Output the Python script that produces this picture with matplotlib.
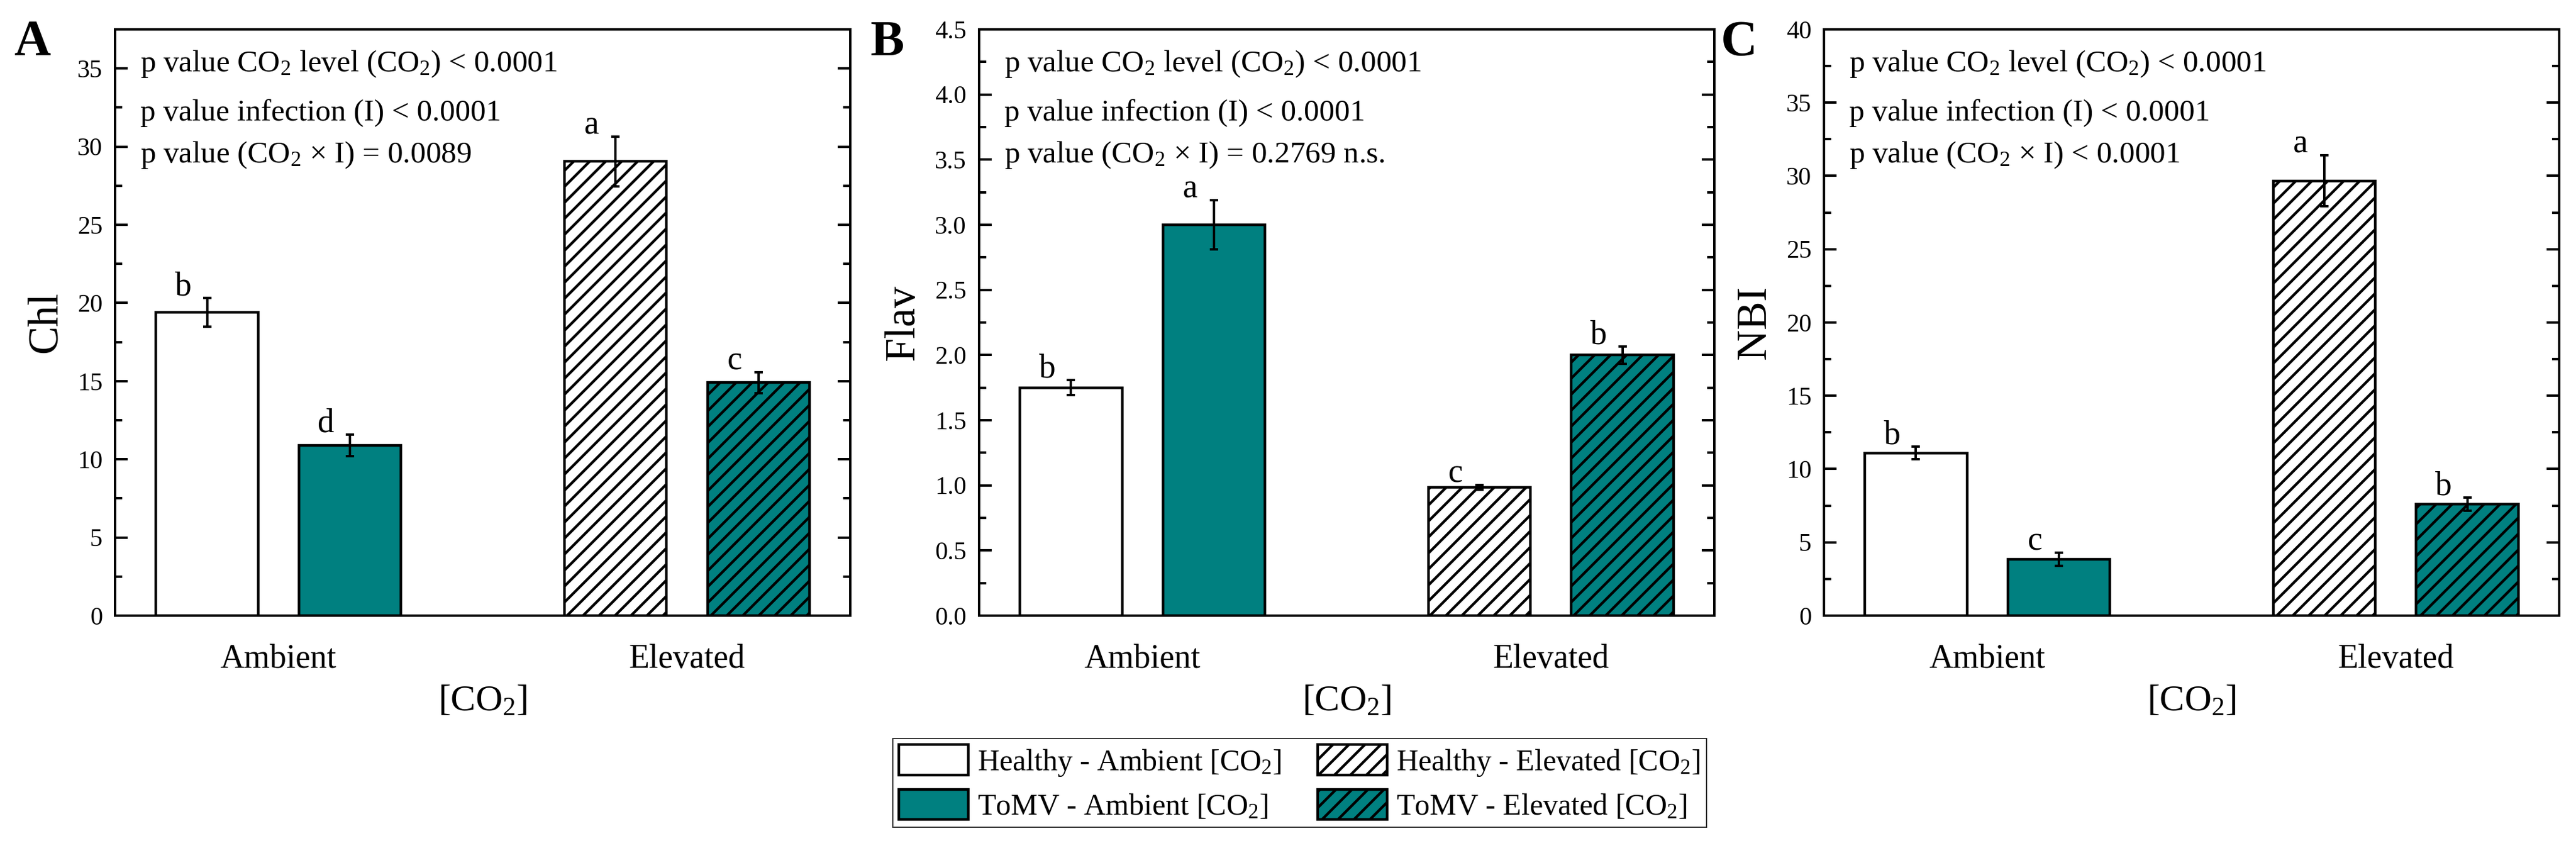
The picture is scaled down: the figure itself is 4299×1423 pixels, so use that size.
import matplotlib

matplotlib.use("Agg")
import matplotlib.pyplot as plt
from matplotlib.patches import Patch
from matplotlib.ticker import AutoMinorLocator, FormatStrFormatter, MultipleLocator

plt.rcParams["font.family"] = ["Liberation Serif", "DejaVu Serif"]
plt.rcParams["mathtext.fontset"] = "custom"
plt.rcParams["mathtext.rm"] = "Liberation Serif"
plt.rcParams["mathtext.it"] = "Liberation Serif:italic"
plt.rcParams["hatch.linewidth"] = 2.0

DPI = 160
TEAL = "#008080"

groups = ["Ambient", "Elevated"]
treatments = [
    "Healthy - Ambient [CO$_\\mathregular{2}$]",
    "ToMV - Ambient [CO$_\\mathregular{2}$]",
    "Healthy - Elevated [CO$_\\mathregular{2}$]",
    "ToMV - Elevated [CO$_\\mathregular{2}$]",
]

# order: healthy-ambient, ToMV-ambient, healthy-elevated, ToMV-elevated
chl_mean = [19.4, 10.9, 29.05, 14.9]
chl_err = [0.93, 0.69, 1.6, 0.66]
chl_letters = ["b", "d", "a", "c"]

flav_mean = [1.75, 3.0, 0.985, 2.0]
flav_err = [0.057, 0.19, 0.018, 0.066]
flav_letters = ["b", "a", "c", "b"]

nbi_mean = [11.1, 3.84, 29.67, 7.59]
nbi_err = [0.44, 0.44, 1.74, 0.45]
nbi_letters = ["b", "c", "a", "b"]

chl_pvalues = ["p value CO$_\\mathregular{2}$ level (CO$_\\mathregular{2}$) < 0.0001",
               "p value infection (I) < 0.0001",
               "p value (CO$_\\mathregular{2}$ × I) = 0.0089"]
flav_pvalues = ["p value CO$_\\mathregular{2}$ level (CO$_\\mathregular{2}$) < 0.0001",
                "p value infection (I) < 0.0001",
                "p value (CO$_\\mathregular{2}$ × I) = 0.2769 n.s."]
nbi_pvalues = ["p value CO$_\\mathregular{2}$ level (CO$_\\mathregular{2}$) < 0.0001",
               "p value infection (I) < 0.0001",
               "p value (CO$_\\mathregular{2}$ × I) < 0.0001"]

face_colors = ["white", TEAL, "white", TEAL]
hatches = ["", "", "//", "//"]
offsets = [-0.175, 0.175]
bar_width = 0.25


def draw_panel(ax, means, errs, letters, pvalues, ylabel, ymax, ystep, fmt):
    xs = []
    for g in range(2):
        for k in range(2):
            xs.append(g + 1 + offsets[k])
    for i in range(4):
        ax.bar(xs[i], means[i], bar_width, color=face_colors[i], edgecolor="black",
               linewidth=2.0, hatch=hatches[i], zorder=2)
        ax.errorbar(xs[i], means[i], yerr=errs[i], fmt="none", ecolor="black",
                    elinewidth=1.8, capsize=3.2, capthick=1.8, zorder=3)
        ax.annotate(letters[i], (xs[i], means[i] + errs[i]), xytext=(-18, 2),
                    textcoords="offset points", ha="center", va="baseline", fontsize=25)

    for j, line in enumerate(pvalues):
        ax.text(0.034, [0.928, 0.845, 0.773][j], line, transform=ax.transAxes,
                fontsize=23, ha="left", va="baseline")

    ax.set_xlim(0.6, 2.4)
    ax.set_ylim(0, ymax)
    ax.set_xticks([1, 2])
    ax.set_xticklabels(groups, fontsize=25)
    ax.yaxis.set_major_locator(MultipleLocator(ystep))
    ax.yaxis.set_minor_locator(AutoMinorLocator(2))
    ax.yaxis.set_major_formatter(FormatStrFormatter(fmt))
    ax.tick_params(axis="y", which="both", direction="in", right=True, left=True,
                   width=1.8, labelsize=19, pad=9.5)
    ax.tick_params(axis="y", which="major", length=9.5)
    ax.tick_params(axis="y", which="minor", length=5.4)
    ax.tick_params(axis="x", length=0, pad=21)
    for s in ax.spines.values():
        s.set_linewidth(1.8)
    ax.set_ylabel(ylabel, fontsize=32, labelpad=9)
    ax.set_xlabel("[CO$_\\mathregular{2}$]", fontsize=28, labelpad=8)


fig = plt.figure(figsize=(4299 / DPI, 1423 / DPI), dpi=DPI)

lefts = [0.0447, 0.3801, 0.7081]
panels = [
    ("A", chl_mean, chl_err, chl_letters, chl_pvalues, "Chl", 37.5, 5, "%d"),
    ("B", flav_mean, flav_err, flav_letters, flav_pvalues, "Flav", 4.5, 0.5, "%.1f"),
    ("C", nbi_mean, nbi_err, nbi_letters, nbi_pvalues, "NBI", 40, 5, "%d"),
]
letter_x = [0.0053, 0.338, 0.668]

for i, (tag, m, e, lt, pv, yl, ymax, step, fmt) in enumerate(panels):
    ax = fig.add_axes([lefts[i], 0.2783, 0.2854, 0.6873])
    draw_panel(ax, m, e, lt, pv, yl, ymax, step, fmt)
    fig.text(letter_x[i], 0.935, tag, fontsize=38, fontweight="bold",
             ha="left", va="baseline")

handles = [Patch(facecolor=face_colors[i], edgecolor="black", linewidth=2.0,
                 hatch=hatches[i]) for i in range(4)]
leg = fig.legend(handles, treatments, loc="center", bbox_to_anchor=(0.5045, 0.0822),
                 ncol=2, fontsize=22.5, frameon=True, fancybox=False, edgecolor="black",
                 handlelength=2.33, handleheight=1.19, handletextpad=0.3,
                 columnspacing=1.2, labelspacing=0.38, borderpad=0.2)
leg.get_frame().set_linewidth(0.9)

fig.savefig("out.png", dpi=DPI)
